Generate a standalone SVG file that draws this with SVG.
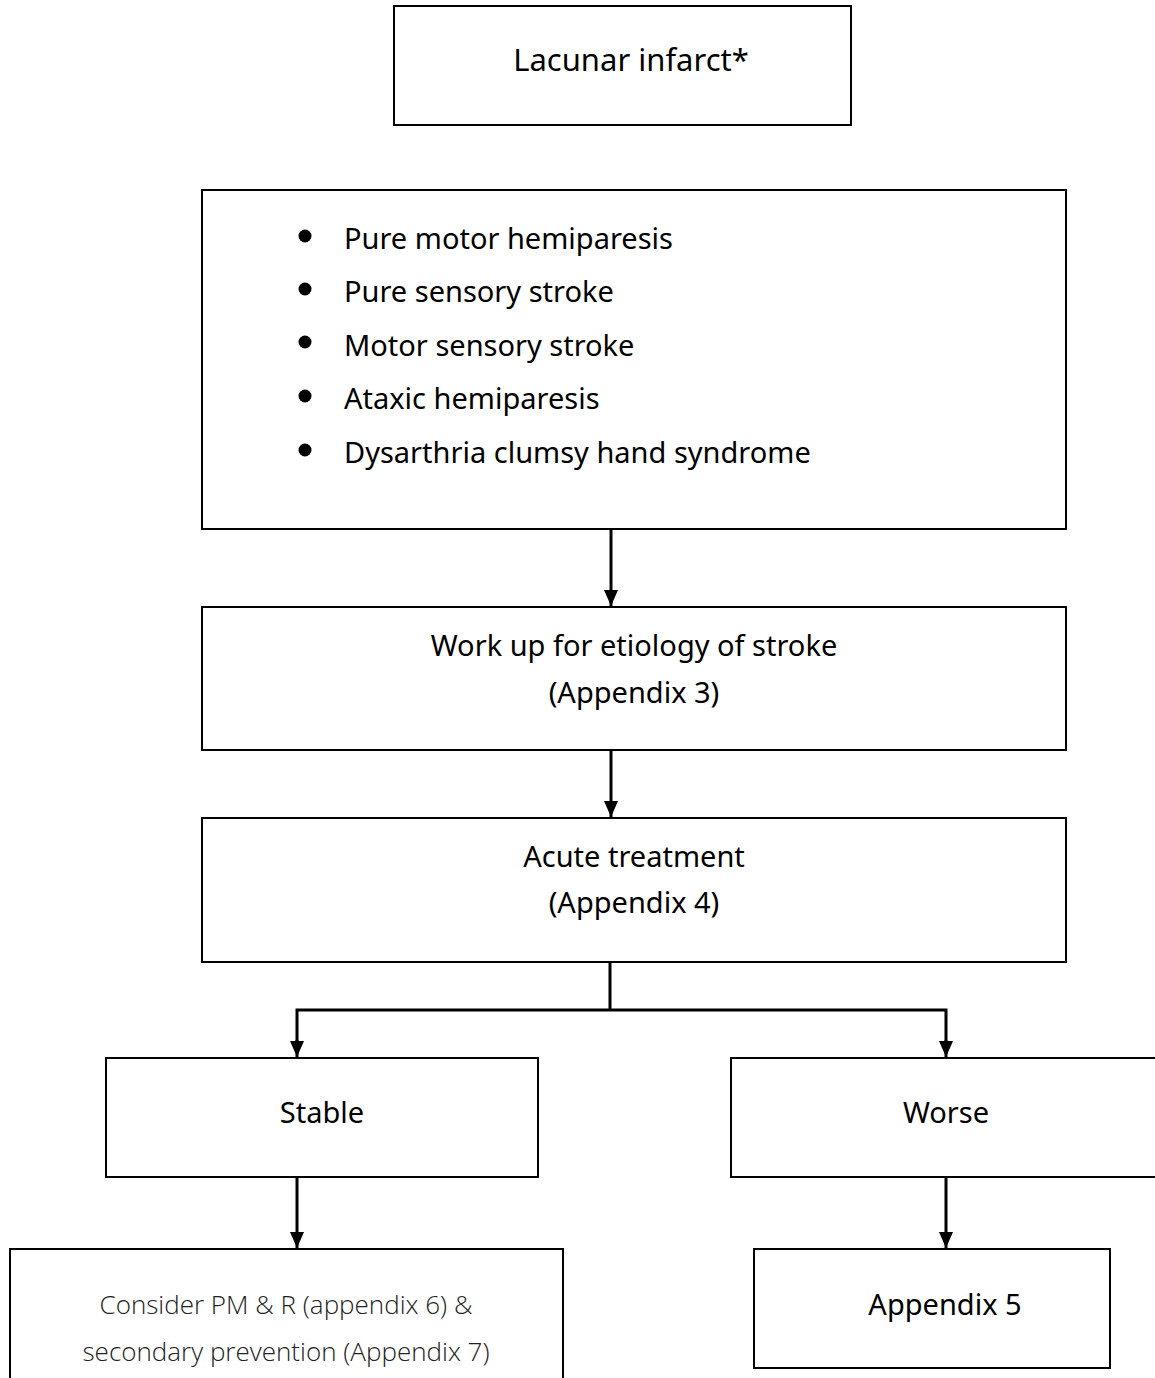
<svg xmlns="http://www.w3.org/2000/svg" width="1155" height="1378" viewBox="0 0 1155 1378">
  <defs>
    <marker id="arrow" markerWidth="16" markerHeight="14" refX="16" refY="7" orient="auto" markerUnits="userSpaceOnUse" viewBox="0 0 16 14">
      <path d="M0,0 L16,7 L0,14 Z" fill="#000"/>
    </marker>
    <style>
      .box { fill: #fff; stroke: #000; stroke-width: 2; }
      .t { font-family: "Noto Sans", "Open Sans", sans-serif; font-size: 29px; fill: #000; }
      .c { text-anchor: middle; }
      .light { fill: #222; font-weight: 300; font-size: 26px; font-family: "Open Sans", "Noto Sans", sans-serif; }
      .conn { fill: none; stroke: #000; stroke-width: 3; }
    </style>
  </defs>
  <rect width="1155" height="1378" fill="#fff"/>

  <g id="lacunar">
    <rect class="box" x="394" y="6" width="457" height="119"/>
    <text class="t c" x="631" y="71" style="font-size:31px">Lacunar infarct*</text>
  </g>

  <g id="syndromes">
    <rect class="box" x="202" y="190" width="864" height="339"/>
    <circle cx="305" cy="236" r="6.5"/>
    <circle cx="305" cy="289" r="6.5"/>
    <circle cx="305" cy="342" r="6.5"/>
    <circle cx="305" cy="396" r="6.5"/>
    <circle cx="305" cy="450" r="6.5"/>
    <text class="t" x="344" y="249">Pure motor hemiparesis</text>
    <text class="t" x="344" y="302">Pure sensory stroke</text>
    <text class="t" x="344" y="356">Motor sensory stroke</text>
    <text class="t" x="344" y="409">Ataxic hemiparesis</text>
    <text class="t" x="344" y="463">Dysarthria clumsy hand syndrome</text>
  </g>

  <g id="workup">
    <rect class="box" x="202" y="607" width="864" height="143"/>
    <text class="t c" x="634" y="656">Work up for etiology of stroke</text>
    <text class="t c" x="634" y="703">(Appendix 3)</text>
  </g>

  <g id="acute">
    <rect class="box" x="202" y="818" width="864" height="144"/>
    <text class="t c" x="634" y="867">Acute treatment</text>
    <text class="t c" x="634" y="913">(Appendix 4)</text>
  </g>

  <g id="stable">
    <rect class="box" x="106" y="1058" width="432" height="119"/>
    <text class="t c" x="322" y="1123">Stable</text>
  </g>

  <g id="worse">
    <rect class="box" x="731" y="1058" width="440" height="119"/>
    <text class="t c" x="946" y="1123">Worse</text>
  </g>

  <g id="consider">
    <rect class="box" x="10" y="1249" width="553" height="140"/>
    <text class="t c light" x="286" y="1314">Consider PM &amp; R (appendix 6) &amp;</text>
    <text class="t c light" x="286" y="1361">secondary prevention (Appendix 7)</text>
  </g>

  <g id="appendix5">
    <rect class="box" x="754" y="1249" width="356" height="119"/>
    <text class="t c" x="945" y="1315">Appendix 5</text>
  </g>

  <g id="connectors">
    <line class="conn" x1="611" y1="530" x2="611" y2="606" marker-end="url(#arrow)"/>
    <line class="conn" x1="611" y1="751" x2="611" y2="817" marker-end="url(#arrow)"/>
    <line class="conn" x1="610" y1="963" x2="610" y2="1010"/>
    <polyline class="conn" points="297,1050 297,1010 946,1010 946,1050"/>
    <line class="conn" x1="297" y1="1040" x2="297" y2="1057" marker-end="url(#arrow)"/>
    <line class="conn" x1="946" y1="1040" x2="946" y2="1057" marker-end="url(#arrow)"/>
    <line class="conn" x1="297" y1="1178" x2="297" y2="1248" marker-end="url(#arrow)"/>
    <line class="conn" x1="946" y1="1178" x2="946" y2="1248" marker-end="url(#arrow)"/>
  </g>
</svg>
